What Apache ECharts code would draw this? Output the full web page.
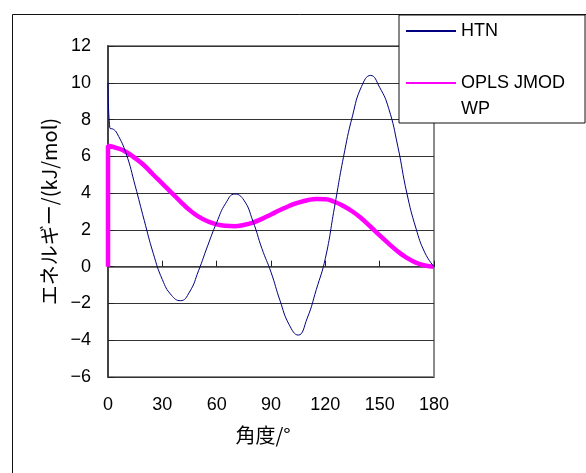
<!DOCTYPE html>
<html><head><meta charset="utf-8">
<script src="https://cdn.jsdelivr.net/npm/echarts@6/dist/echarts.min.js"></script>
<style>html,body{margin:0;padding:0;background:#fff}#c{width:586px;height:473px}</style>
</head><body><div id="c"></div>
<script>
const seriesNames = ['HTN', 'OPLS JMOD WP'];
const htnAngles = [0, 1, 3, 5, 10, 15, 20, 25, 30, 35, 40, 45, 50, 55, 60, 65, 70, 75, 80, 85, 90, 95, 100, 105, 110, 115, 120, 125, 130, 135, 140, 145, 150, 155, 160, 165, 170, 175, 180];
const htnEnergy = [10, 7.55, 7.47, 7.25, 6.15, 4.4, 2.52, 0.72, -0.7, -1.55, -1.85, -1.38, -0.22, 1.13, 2.4, 3.45, 3.95, 3.62, 2.48, 0.98, -0.3, -1.85, -3.15, -3.72, -2.8, -1.25, 0.45, 3.2, 5.95, 8.2, 9.8, 10.4, 9.75, 8.6, 6.55, 4.0, 2.1, 0.75, 0];
const oplsAngles = [0, 0, 5, 10, 15, 20, 25, 30, 35, 40, 45, 50, 55, 60, 65, 70, 75, 80, 85, 90, 95, 100, 105, 110, 115, 120, 125, 130, 135, 140, 145, 150, 155, 160, 165, 170, 175, 180];
const oplsEnergy = [0, 6.58, 6.45, 6.24, 5.9, 5.5, 5.0, 4.52, 4.03, 3.54, 3.08, 2.72, 2.47, 2.3, 2.22, 2.2, 2.27, 2.4, 2.6, 2.84, 3.08, 3.3, 3.48, 3.61, 3.68, 3.67, 3.53, 3.3, 3.0, 2.62, 2.17, 1.7, 1.25, 0.83, 0.48, 0.22, 0.06, 0];
const xTickValues = [0, 30, 60, 90, 120, 150, 180];
const xTickLabels = ['0', '30', '60', '90', '120', '150', '180'];
const yTickValues = [-6, -4, -2, 0, 2, 4, 6, 8, 10, 12];
const yTickLabels = ['\u22126', '\u22124', '\u22122', '0', '2', '4', '6', '8', '10', '12'];
const xName = '角度/°';
const yName = 'エネルギー/(kJ/mol)';

const pair = (xs, ys) => xs.map((x, i) => [x, ys[i]]);
const lab = (vals, labels) => v => { const i = vals.indexOf(v); return i >= 0 ? labels[i] : ''; };

const chart = echarts.init(document.getElementById('c'), null, {renderer: 'canvas'});
const latin = 'Liberation Sans, Arial, sans-serif';
const cjk = 'Noto Sans CJK JP, sans-serif';
chart.setOption({
  animation: false,
  backgroundColor: '#fff',
  graphic: [{
    type: 'rect', left: 10, top: 12, silent: true, z: -1,
    shape: {width: 600, height: 500},
    style: {fill: 'none', stroke: '#111', lineWidth: 1}
  }],
  grid: {left: 108, top: 46, right: 152, bottom: 96, show: true, borderColor: '#8a8a8a', borderWidth: 2,
         backgroundColor: 'transparent', containLabel: false, outerBoundsMode: 'none'},
  legend: {
    orient: 'vertical', left: 399, top: 15,
    padding: [3, 20, 1, 6], itemGap: 0, itemWidth: 50, itemHeight: 14,
    backgroundColor: '#fff', borderColor: '#111', borderWidth: 1, borderRadius: 0,
    align: 'left',
    itemStyle: {opacity: 0},
    textStyle: {fontFamily: latin, fontSize: 18, color: '#000', lineHeight: 26},
    formatter: n => n === seriesNames[1] ? '\nOPLS JMOD\nWP' : n,
    data: [seriesNames[0], seriesNames[1]]
  },
  xAxis: {
    type: 'value', min: 0, max: 180, interval: 30,
    axisLine: {show: true, onZero: true, lineStyle: {color: '#444', width: 1.5}},
    axisTick: {show: true, inside: true, length: 6, lineStyle: {color: '#222'}},
    axisLabel: {margin: 19, fontFamily: latin, fontSize: 18, color: '#000', formatter: lab(xTickValues, xTickLabels)},
    splitLine: {show: false},
    name: xName, nameLocation: 'middle', nameGap: 48,
    nameTextStyle: {fontFamily: cjk, fontSize: 20, color: '#000', padding: [0, 16, 0, 0]}
  },
  yAxis: {
    type: 'value', min: -6, max: 12, interval: 2,
    axisLine: {show: true, lineStyle: {color: '#444', width: 2}},
    axisTick: {show: true, inside: true, length: 6, lineStyle: {color: '#222'}},
    axisLabel: {margin: 17, fontFamily: latin, fontSize: 18, color: '#000', formatter: lab(yTickValues, yTickLabels)},
    splitLine: {show: true, lineStyle: {color: '#333', width: 1}},
    name: yName, nameLocation: 'middle', nameGap: 46, nameRotate: 90,
    nameTextStyle: {fontFamily: cjk, fontSize: 20, color: '#000'}
  },
  series: [
    {name: seriesNames[0], type: 'line', data: pair(htnAngles, htnEnergy), smooth: 0.5, symbol: 'none',
     lineStyle: {color: '#000080', width: 1}, itemStyle: {color: '#000080'}, z: 3},
    {name: seriesNames[1], type: 'line', data: pair(oplsAngles, oplsEnergy), smooth: 0.5, symbol: 'none',
     lineStyle: {color: '#ff00ff', width: 4.5}, itemStyle: {color: '#ff00ff'}, z: 2}
  ]
});
</script></body></html>
